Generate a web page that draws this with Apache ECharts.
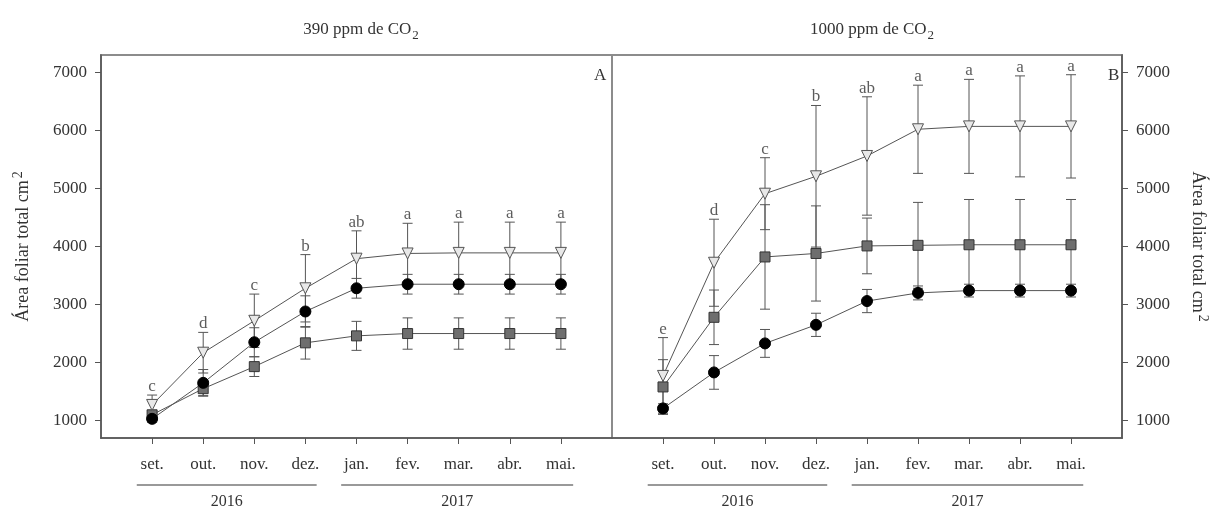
<!DOCTYPE html>
<html>
<head>
<meta charset="utf-8">
<script src="https://cdn.jsdelivr.net/npm/echarts@6/dist/echarts.min.js"></script>
<style>
  html, body { margin: 0; padding: 0; background: #fff; }
  #chart { width: 1211px; height: 509px; }
</style>
</head>
<body>
<div id="chart"></div>
<script>
// meses
var months = ["set.", "out.", "nov.", "dez.", "jan.", "fev.", "mar.", "abr.", "mai."];
var yTicks = [1000, 2000, 3000, 4000, 5000, 6000, 7000];

// 390 ppm
var tri390 = [1270, 2170, 2720, 3280, 3790, 3880, 3890, 3890, 3890];
var triErr390 = [170, 350, 460, 580, 480, 520, 530, 530, 530];
var circ390 = [1030, 1650, 2350, 2880, 3280, 3350, 3350, 3350, 3350];
var circErr390 = [60, 230, 250, 270, 170, 170, 170, 170, 170];
var sq390 = [1100, 1550, 1930, 2340, 2460, 2500, 2500, 2500, 2500];
var sqErr390 = [70, 120, 170, 280, 250, 270, 270, 270, 270];
var letters390 = ["c", "d", "c", "b", "ab", "a", "a", "a", "a"];

// 1000 ppm
var tri1000 = [1770, 3720, 4910, 5210, 5560, 6020, 6070, 6070, 6070];
var triErr1000 = [660, 750, 620, 1220, 1020, 760, 810, 870, 890];
var sq1000 = [1580, 2780, 3820, 3880, 4010, 4020, 4030, 4030, 4030];
var sqErr1000 = [470, 470, 900, 820, 480, 740, 780, 780, 780];
var circ1000 = [1210, 1830, 2330, 2650, 3060, 3200, 3240, 3240, 3240];
var circErr1000 = [80, 290, 240, 200, 200, 120, 110, 110, 110];
var letters1000 = ["e", "d", "c", "b", "ab", "a", "a", "a", "a"];

// anos (em posicoes do eixo x)
var years = [
  { label: "2016", from: -0.3, to: 3.22 },
  { label: "2017", from: 3.7, to: 8.24 }
];

var FONT = "Liberation Serif";
var ink = "#333";

var chart = echarts.init(document.getElementById("chart"));

function pts(vals) {
  return vals.map(function (v, i) { return [i, v]; });
}
function bars(vals, errs) {
  return vals.map(function (v, i) { return [i, v - errs[i], v + errs[i]]; });
}
function topOf(groups) {
  return months.map(function (m, i) {
    var t = 0;
    groups.forEach(function (g) { t = Math.max(t, g[0][i] + g[1][i]); });
    return [i, t];
  });
}

function errorBar(params, api) {
  var x = api.value(0);
  var lo = api.coord([x, api.value(1)]);
  var hi = api.coord([x, api.value(2)]);
  var w = 5;
  var st = { stroke: "#555", lineWidth: 1 };
  return {
    type: "group",
    children: [
      { type: "line", shape: { x1: hi[0], y1: hi[1], x2: lo[0], y2: lo[1] }, style: st },
      { type: "line", shape: { x1: hi[0] - w, y1: hi[1], x2: hi[0] + w, y2: hi[1] }, style: st },
      { type: "line", shape: { x1: lo[0] - w, y1: lo[1], x2: lo[0] + w, y2: lo[1] }, style: st }
    ]
  };
}

function errSeries(k, vals, errs) {
  return {
    type: "custom",
    xAxisIndex: k,
    yAxisIndex: k,
    renderItem: errorBar,
    encode: { x: 0, y: [1, 2] },
    data: bars(vals, errs),
    z: 1,
    silent: true
  };
}

var styles = {
  tri: { symbol: "triangle", symbolRotate: 180, symbolSize: 11, fill: "#e8e8e8", border: "#555" },
  circ: { symbol: "circle", symbolRotate: 0, symbolSize: 11, fill: "#000", border: "#000" },
  sq: { symbol: "rect", symbolRotate: 0, symbolSize: 10, fill: "#6e6e6e", border: "#333" }
};

function lineSeries(k, vals, s) {
  return {
    type: "line",
    xAxisIndex: k,
    yAxisIndex: k,
    data: pts(vals),
    symbol: s.symbol,
    symbolRotate: s.symbolRotate,
    symbolSize: s.symbolSize,
    showSymbol: true,
    animation: false,
    lineStyle: { color: "#555", width: 1 },
    itemStyle: { color: s.fill, borderColor: s.border, borderWidth: 1 },
    z: 3,
    silent: true
  };
}

function letterSeries(k, tops, letters) {
  return {
    type: "scatter",
    xAxisIndex: k,
    yAxisIndex: k,
    data: tops,
    symbolSize: 0,
    z: 4,
    silent: true,
    label: {
      show: true,
      position: "top",
      distance: 0,
      fontFamily: FONT,
      fontSize: 17,
      color: ink,
      formatter: function (p) { return letters[p.dataIndex]; }
    }
  };
}

function xAxis(k) {
  return {
    type: "value",
    gridIndex: k,
    min: -1,
    max: 9,
    splitLine: { show: false },
    axisLine: { show: true, onZero: false, lineStyle: { color: "#555", width: 1.5 } },
    axisTick: { show: true, length: 6, customValues: [0, 1, 2, 3, 4, 5, 6, 7, 8], lineStyle: { color: "#555" } },
    axisLabel: {
      customValues: [0, 1, 2, 3, 4, 5, 6, 7, 8],
      margin: 18,
      fontFamily: FONT,
      fontSize: 17,
      color: ink,
      formatter: function (v) { return months[v] || ""; }
    }
  };
}

var yName = "Área foliar total cm{sup|2}";
var nameRich = {
  sup: { fontFamily: FONT, fontSize: 14, color: ink, verticalAlign: "top", lineHeight: 14, padding: [0, 0, 0, 2] }
};

function yAxis(k, pos) {
  return {
    type: "value",
    gridIndex: k,
    position: pos,
    min: 700,
    max: 7300,
    splitLine: { show: false },
    axisLine: { show: true, onZero: false, lineStyle: { color: "#555", width: 1.5 } },
    axisTick: { show: true, length: 6, customValues: yTicks, lineStyle: { color: "#555" } },
    axisLabel: {
      customValues: yTicks, margin: 14, fontFamily: FONT, fontSize: 17, color: ink,
      formatter: function (v) { return String(v); }
    },
    name: yName,
    nameLocation: "middle",
    nameRotate: pos === "left" ? 90 : -90,
    nameGap: pos === "left" ? 66 : 64,
    nameTextStyle: { fontFamily: FONT, fontSize: 18, color: ink, lineHeight: 24, rich: nameRich }
  };
}

var titleRich = {
  sub: { fontFamily: FONT, fontSize: 13, color: ink, verticalAlign: "bottom", lineHeight: 13, padding: [0, 0, -4, 1] }
};

var option = {
  backgroundColor: "#fff",
  animation: false,
  title: [
    { text: "390 ppm de CO{sub|2}", left: 356, top: 16, textAlign: "center",
      textStyle: { fontFamily: FONT, fontSize: 17, fontWeight: "normal", color: ink, rich: titleRich } },
    { text: "1000 ppm de CO{sub|2}", left: 867, top: 16, textAlign: "center",
      textStyle: { fontFamily: FONT, fontSize: 17, fontWeight: "normal", color: ink, rich: titleRich } },
    { text: "A", left: 589, top: 62, textStyle: { fontFamily: FONT, fontSize: 17, fontWeight: "normal", color: ink } },
    { text: "B", left: 1103, top: 62, textStyle: { fontFamily: FONT, fontSize: 17, fontWeight: "normal", color: ink } }
  ],
  grid: [
    { left: 101, top: 55, width: 511, height: 383, show: true, borderColor: "#8c8c8c", borderWidth: 2, backgroundColor: "transparent" },
    { left: 612, top: 55, width: 510, height: 383, show: true, borderColor: "#8c8c8c", borderWidth: 2, backgroundColor: "transparent" }
  ],
  xAxis: [xAxis(0), xAxis(1)],
  yAxis: [yAxis(0, "left"), yAxis(1, "right")],
  series: [
    errSeries(0, tri390, triErr390),
    errSeries(0, circ390, circErr390),
    errSeries(0, sq390, sqErr390),
    lineSeries(0, sq390, styles.sq),
    lineSeries(0, circ390, styles.circ),
    lineSeries(0, tri390, styles.tri),
    letterSeries(0, topOf([[tri390, triErr390], [circ390, circErr390], [sq390, sqErr390]]), letters390),

    errSeries(1, tri1000, triErr1000),
    errSeries(1, sq1000, sqErr1000),
    errSeries(1, circ1000, circErr1000),
    lineSeries(1, circ1000, styles.circ),
    lineSeries(1, sq1000, styles.sq),
    lineSeries(1, tri1000, styles.tri),
    letterSeries(1, topOf([[tri1000, triErr1000], [sq1000, sqErr1000], [circ1000, circErr1000]]), letters1000)
  ]
};

chart.setOption(option);

// linhas dos anos abaixo do eixo
var graphics = [];
[0, 1].forEach(function (k) {
  years.forEach(function (y) {
    var x1 = chart.convertToPixel({ xAxisIndex: k }, y.from);
    var x2 = chart.convertToPixel({ xAxisIndex: k }, y.to);
    graphics.push({
      type: "line",
      shape: { x1: x1, y1: 485, x2: x2, y2: 485 },
      style: { stroke: "#777", lineWidth: 1.5 }
    });
    graphics.push({
      type: "text",
      x: (x1 + x2) / 2,
      y: 502,
      style: { text: y.label, font: "16px '" + FONT + "'", fill: ink, textAlign: "center", textVerticalAlign: "middle" }
    });
  });
});
chart.setOption({ graphic: graphics });
</script>
</body>
</html>
